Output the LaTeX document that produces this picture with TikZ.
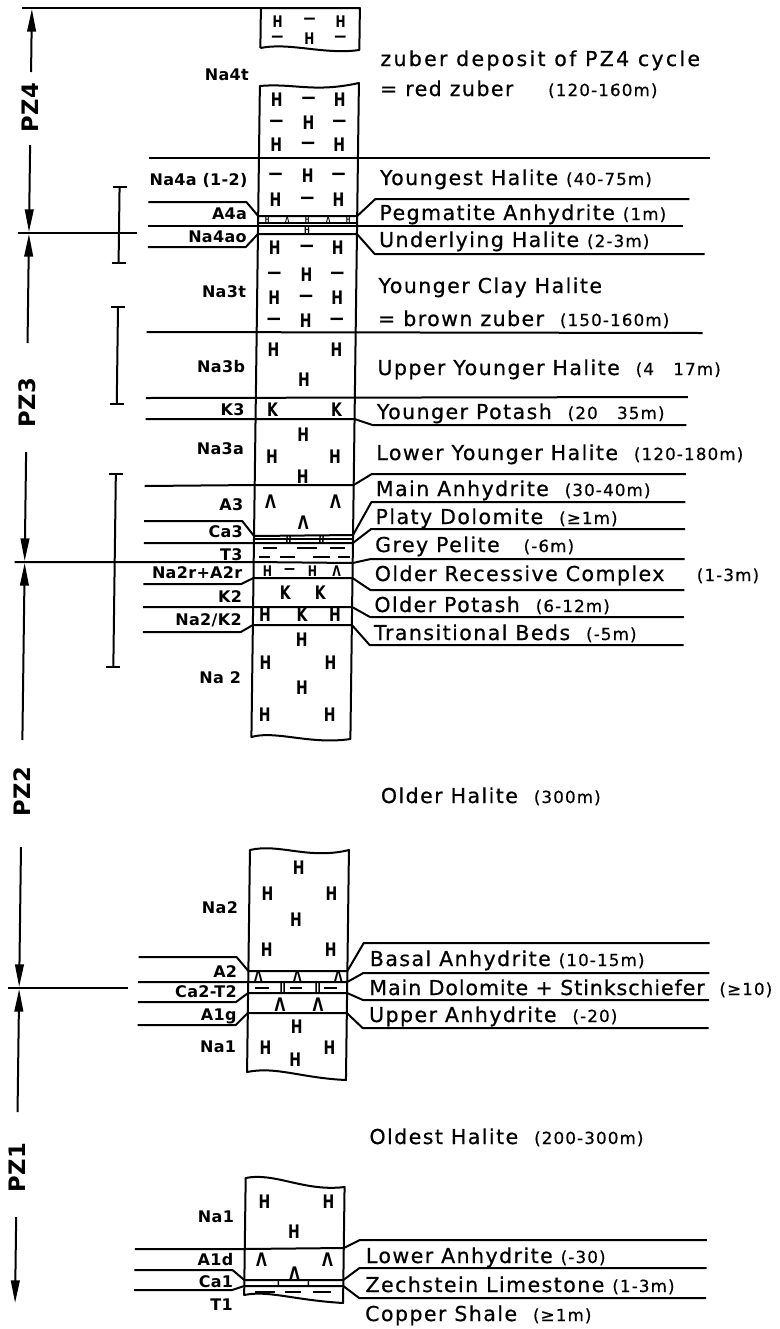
\documentclass[tikz,border=0pt]{standalone}
\usepackage{fontspec}
\usetikzlibrary{arrows.meta}
\newfontfamily\rtfont{DejaVu Sans}[LetterSpace=7,FakeBold=0.6]
\newfontfamily\lbfont{DejaVu Sans}[LetterSpace=2]
\newfontfamily\symfont{DejaVu Sans}[FakeStretch=0.75]
\newcommand{\sm}{\fontsize{12.5}{12.5}\selectfont}
\def\ColL{261}
\def\ColR{360}
\tikzset{
  ln/.style={line width=1.5pt, line join=round},
  thn/.style={line width=1.1pt},
  rt/.style={anchor=base west, inner sep=0pt, font=\rtfont\fontsize{15.4}{16}\selectfont, yshift=-6pt},
  lb/.style={anchor=base east, inner sep=0pt, font=\lbfont\bfseries\fontsize{12}{12}\selectfont, yshift=-4.4pt},
  sy/.style={inner sep=0pt, font=\symfont\bfseries\fontsize{14}{14}\selectfont},
  syf/.style={inner sep=0pt, font=\symfont\bfseries\fontsize{12}{12}\selectfont},
  sys/.style={inner sep=0pt, font=\symfont\bfseries\fontsize{11}{11}\selectfont},
  syt/.style={inner sep=0pt, font=\symfont\bfseries\fontsize{5.5}{6}\selectfont},
  pz/.style={inner sep=0pt, rotate=90, font=\lbfont\bfseries\fontsize{17}{17}\selectfont},
  pzar/.style={line width=1.5pt, -{Triangle[length=17pt,width=6.5pt]}},
}
\begin{document}
\begin{tikzpicture}[x=0.75pt,y=-0.75pt]
\useasboundingbox[fill=white] (0,0) rectangle (779,1329);
\begin{scope}[xslant=0.013]
% ---------- PZ axis ----------
\draw[ln] (22,8) -- (\ColL,8);
\draw[pzar] (32,72) -- (32,9);
\node[pz] (pz4) at (32,108) {PZ4};
\draw[pzar] (32,145) -- (32,232);
\draw[ln] (21,233) -- (140,233);
\draw[pzar] (32,343) -- (32,234);
\node[pz] (pz3) at (32,403) {PZ3};
\draw[pzar] (32,452) -- (32,561);
\draw[pzar] (32,740) -- (32,563);
\node[pz] (pz2) at (32,792) {PZ2};
\draw[pzar] (32,847) -- (32,987);
\draw[ln] (21,988) -- (141,988);
\draw[pzar] (32,1112) -- (32,989);
\node[pz] (pz1) at (32,1168) {PZ1};
\draw[pzar] (32,1217) -- (32,1303);
% ---------- brackets ----------
\foreach \ya/\yb in {187/263, 307/404, 474/667}{
  \draw[ln] (122,\ya) -- (122,\yb);
  \draw[ln] (115,\ya) -- (129,\ya);
  \draw[ln] (115,\yb) -- (129,\yb);
}
% ---------- top fragment ----------
\draw[ln] (\ColL,48) -- (\ColL,8) -- (\ColR,8) -- (\ColR,50) .. controls (325,55) and (290,42) .. (\ColL,48);
\node[syf] at (278,22) {H}; \node[syf] at (310,21) {—}; \node[syf] at (341,22) {H};
\node[syf] at (278,39) {—}; \node[syf] at (310,39) {H}; \node[syf] at (341,39) {—};
% ---------- upper column ----------
\draw[ln] (\ColL,737) -- (\ColL,86) .. controls (295,83) and (315,93) .. (\ColR,83) -- (\ColR,739) .. controls (320,745) and (285,730) .. (\ColL,737) -- cycle;
% Na4t
\node[sy] at (278,100) {H}; \node[sy] at (310,100) {—}; \node[sy] at (341,100) {H};
\node[sy] at (278,123) {—}; \node[sy] at (310,123) {H}; \node[sy] at (341,123) {—};
\node[sy] at (278,145) {H}; \node[sy] at (310,145) {—}; \node[sy] at (341,145) {H};
\node[lb] (na4t) at (250,75) {Na4t};
\node[rt] (t1) at (381,58) {\addfontfeature{LetterSpace=11}zuber deposit of PZ4 cycle};
\node[rt] (t2) at (381,88) {= red zuber};
\node[rt] (t2b) at (549,88) {\sm (120-160m)};
\draw[ln] (151,158) -- (712,158);
% Na4a
\node[sy] at (278,176) {—}; \node[sy] at (310,176) {H}; \node[sy] at (341,176) {—};
\node[sy] at (278,200) {H}; \node[sy] at (310,200) {—}; \node[sy] at (341,200) {H};
\node[lb] (na4a) at (250,180) {Na4a (1-2)};
\node[rt] (t3) at (382,177) {Youngest Halite \sm (40-75m)};
% A4a
\draw[ln] (151,202) -- (249,202) -- (\ColL,216) -- (\ColR,216) -- (378,199) -- (692,199);
\draw[thn] (\ColL,223) -- (\ColR,223);
\node[syt] at (270,219.5) {H}; \node[syt] at (290,219.5) {Λ}; \node[syt] at (310,219.5) {H};
\node[syt] at (331,219.5) {Λ}; \node[syt] at (351,219.5) {H};
\node[lb] (a4a) at (250,214) {A4a};
\node[rt] (t4) at (382,212) {Pegmatite Anhydrite \sm (1m)};
% Na4ao
\draw[ln] (151,225.5) -- (686,225.5);
\node[syt, font=\symfont\bfseries\fontsize{7}{7}\selectfont] at (310,230) {H};
\draw[ln] (151,247) -- (249,247) -- (\ColL,234) -- (\ColR,234) -- (378,254) -- (708,254);
\node[lb] (na4ao) at (250,237) {Na4ao};
\node[rt] (t5) at (382,239) {Underlying Halite \sm (2-3m)};
% Na3t
\node[sy] at (278,248) {H}; \node[sy] at (310,248) {—}; \node[sy] at (341,248) {H};
\node[sy] at (278,275) {—}; \node[sy] at (310,275) {H}; \node[sy] at (341,275) {—};
\node[sy] at (278,298) {H}; \node[sy] at (310,298) {—}; \node[sy] at (341,298) {H};
\node[sy] at (278,321) {—}; \node[sy] at (310,321) {H}; \node[sy] at (341,321) {—};
\node[lb] (na3t) at (250,292) {Na3t};
\node[rt] (t6) at (382,285) {Younger Clay Halite};
\node[rt] (t7) at (382,318) {= brown zuber \ \sm (150-160m)};
\draw[ln] (151,332) -- (707,333);
% Na3b
\node[sy] at (278,350) {H}; \node[sy] at (341,350) {H}; \node[sy] at (309,380) {H};
\node[lb] (na3b) at (250,367) {Na3b};
\node[rt] (t8) at (382,367) {Upper Younger Halite \ \sm (4\ \ \ 17m)};
\draw[ln] (151,398) -- (693,397);
% K3
\node[sy] at (278,410) {K}; \node[sy] at (342,410) {K};
\node[lb] (k3) at (250,410) {K3};
\node[rt] (t9) at (382,411) {Younger Potash \ \sm (20\ \ \ 35m)};
\draw[ln] (151,419) -- (\ColL,419) -- (\ColR,419) -- (378,425) -- (692,425);
% Na3a
\node[sy] at (309,435) {H}; \node[sy] at (278,457) {H}; \node[sy] at (341,457) {H}; \node[sy] at (309,477) {H};
\node[lb] (na3a) at (250,449) {Na3a};
\node[rt] (t10) at (382,452) {Lower Younger Halite \ \sm (120-180m)};
\draw[ln] (151,486) -- (\ColL,485) -- (\ColR,485) -- (378,474) -- (692,474);
% A3
\node[sy] at (277,502) {Λ}; \node[sy] at (342,502) {Λ}; \node[sy] at (310,523) {Λ};
\node[lb] (a3) at (250,505) {A3};
\node[rt] (t11) at (382,488) {Main Anhydrite \ \sm (30-40m)};
\draw[ln] (151,521) -- (249,521) -- (\ColL,536) -- (\ColR,535) -- (378,502) -- (692,502);
% Ca3
\draw[thn] (\ColL,539) -- (\ColR,539);
\draw[thn] (294,536) -- (294,543) (297,536) -- (297,543) (327,536) -- (327,543) (330,536) -- (330,543);
\node[lb] (ca3) at (250,532) {Ca3};
\node[rt] (t12) at (382,516) {Platy Dolomite \ \sm (≥1m)};
\draw[ln] (151,543) -- (\ColL,543) -- (\ColR,543) -- (378,529) -- (692,529);
% T3
\draw[ln] (270,548) -- (284,548) (304,548) -- (324,548) (337,548) -- (352,548);
\draw[ln] (266,557) -- (277,557) (287,557) -- (302,557) (320,557) -- (337,557) (345,557) -- (357,557);
\node[lb] (t3l) at (250,555) {T3};
\node[rt] (t13) at (382,544) {Grey Pelite \ \ \sm (-6m)};
\draw[ln] (22,562) -- (\ColL,562) -- (\ColR,563) -- (378,559) -- (692,559);
% Na2r+A2r
\node[sys] at (275,571) {H}; \node[sys] at (297,571) {—}; \node[sys] at (320,571) {H}; \node[sys] at (344,571) {Λ};
\node[lb] (na2r) at (250,573) {Na2r+A2r};
\node[rt] (t14) at (382,573) {Older Recessive Complex};
\node[rt] (t14b) at (704,573) {\sm (1-3m)};
\draw[ln] (151,584) -- (249,584) -- (\ColL,578) -- (\ColR,578) -- (378,590) -- (692,590);
% K2
\node[sy] at (293,593) {K}; \node[sy] at (328,593) {K};
\node[lb] (k2) at (250,597) {K2};
\node[rt] (t15) at (382,604) {Older Potash \ \sm (6-12m)};
\draw[ln] (151,607) -- (\ColL,607) -- (\ColR,607) -- (378,617) -- (692,617);
% Na2/K2
\node[sy] at (273,615) {H}; \node[sy] at (310,615) {K}; \node[sy] at (343,615) {H};
\node[lb] (na2k2) at (250,620) {Na2/K2};
\node[rt] (t16) at (382,632) {Transitional Beds \ \sm (-5m)};
\draw[ln] (151,632) -- (249,632) -- (\ColL,625) -- (\ColR,625) -- (378,645) -- (692,645);
% Na2
\node[sy] at (310,640) {H}; \node[sy] at (274,663) {H}; \node[sy] at (339,663) {H};
\node[sy] at (311,688) {H}; \node[sy] at (274,715) {H}; \node[sy] at (339,715) {H};
\node[lb] (na2u) at (250,678) {Na 2};
% ---------- middle ----------
\node[rt] (t17) at (391,795) {Older Halite \ \sm (300m)};
\draw[ln] (\ColL,1072) -- (\ColL,850) .. controls (290,843) and (320,860) .. (\ColR,850) -- (\ColR,1080) .. controls (315,1078) and (290,1066) .. (\ColL,1072) -- cycle;
\node[sy] at (310,868) {H}; \node[sy] at (279,894) {H}; \node[sy] at (343,894) {H};
\node[sy] at (308,920) {H}; \node[sy] at (279,950) {H}; \node[sy] at (343,950) {H};
\node[lb] (na2m) at (250,908) {Na2};
\draw[ln] (151,957) -- (249,957) -- (\ColL,971) -- (\ColR,971) -- (376,943) -- (722,943);
\node[sys] at (271,976) {Λ}; \node[sys] at (310,976) {Λ}; \node[sys] at (351,976) {Λ};
\node[lb] (a2) at (250,972) {A2};
\node[rt] (t18) at (382,958) {Basal Anhydrite \sm (10-15m)};
\draw[ln] (151,982) -- (\ColL,982) -- (\ColR,982) -- (376,973) -- (722,973);
\draw[thn] (268,988) -- (282,988) (303,988) -- (315,988) (337,988) -- (350,988);
\draw[thn] (294,983) -- (294,992) (297,983) -- (297,992) (329,983) -- (329,992) (332,983) -- (332,992);
\node[lb] (ca2) at (250,992) {Ca2-T2};
\node[rt] (t19) at (382,987) {\addfontfeature{LetterSpace=4.5}Main Dolomite + Stinkschiefer};
\node[rt] (t19b) at (732,987) {\sm (≥10)};
\draw[ln] (151,1002) -- (249,1002) -- (\ColL,993) -- (\ColR,993) -- (376,1000) -- (722,1000);
\node[sy] at (293,1005) {Λ}; \node[sy] at (331,1005) {Λ};
\node[lb] (a1g) at (250,1015) {A1g};
\node[rt] (t20) at (382,1014) {Upper Anhydrite \ \sm (-20)};
\draw[ln] (151,1025) -- (249,1025) -- (\ColL,1013) -- (\ColR,1013) -- (376,1028) -- (722,1028);
\node[sy] at (310,1027) {H}; \node[sy] at (279,1048) {H}; \node[sy] at (343,1048) {H}; \node[sy] at (309,1060) {H};
\node[lb] (na1m) at (250,1047) {Na1};
% ---------- bottom ----------
\node[rt] (t21) at (384,1136) {Oldest Halite \ \sm (200-300m)};
\draw[ln] (\ColL,1295) -- (\ColL,1178) .. controls (290,1172) and (320,1192) .. (\ColR,1187) -- (\ColR,1303) .. controls (310,1300) and (285,1290) .. (\ColL,1295) -- cycle;
\node[sy] at (280,1202) {H}; \node[sy] at (344,1202) {H}; \node[sy] at (310,1232) {H};
\node[lb] (na1b) at (250,1217) {Na1};
\draw[ln] (151,1249) -- (\ColL,1249) -- (\ColR,1248) -- (376,1240) -- (723,1240);
\node[sy] at (278,1260) {Λ}; \node[sy] at (344,1260) {Λ}; \node[sy] at (311,1274) {Λ};
\node[lb] (a1d) at (250,1260) {A1d};
\node[rt] (t22) at (382,1255) {Lower Anhydrite \sm (-30)};
\draw[ln] (151,1270) -- (249,1270) -- (\ColL,1280) -- (\ColR,1280) -- (376,1268) -- (723,1268);
\draw[thn] (295,1280) -- (295,1286) (325,1280) -- (325,1286);
\node[lb] (ca1) at (250,1282) {Ca1};
\node[rt] (t23) at (382,1284) {Zechstein Limestone \sm (1-3m)};
\draw[ln] (151,1290) -- (249,1290) -- (\ColL,1286) -- (\ColR,1286) -- (376,1298) -- (723,1298);
\draw[ln] (272,1292) -- (292,1292) (302,1292) -- (318,1292) (330,1292) -- (348,1292);
\node[lb] (t1l) at (250,1305) {T1};
\node[rt] (t24) at (382,1313) {Copper Shale \ \sm (≥1m)};
\end{scope}
\end{tikzpicture}
\end{document}
